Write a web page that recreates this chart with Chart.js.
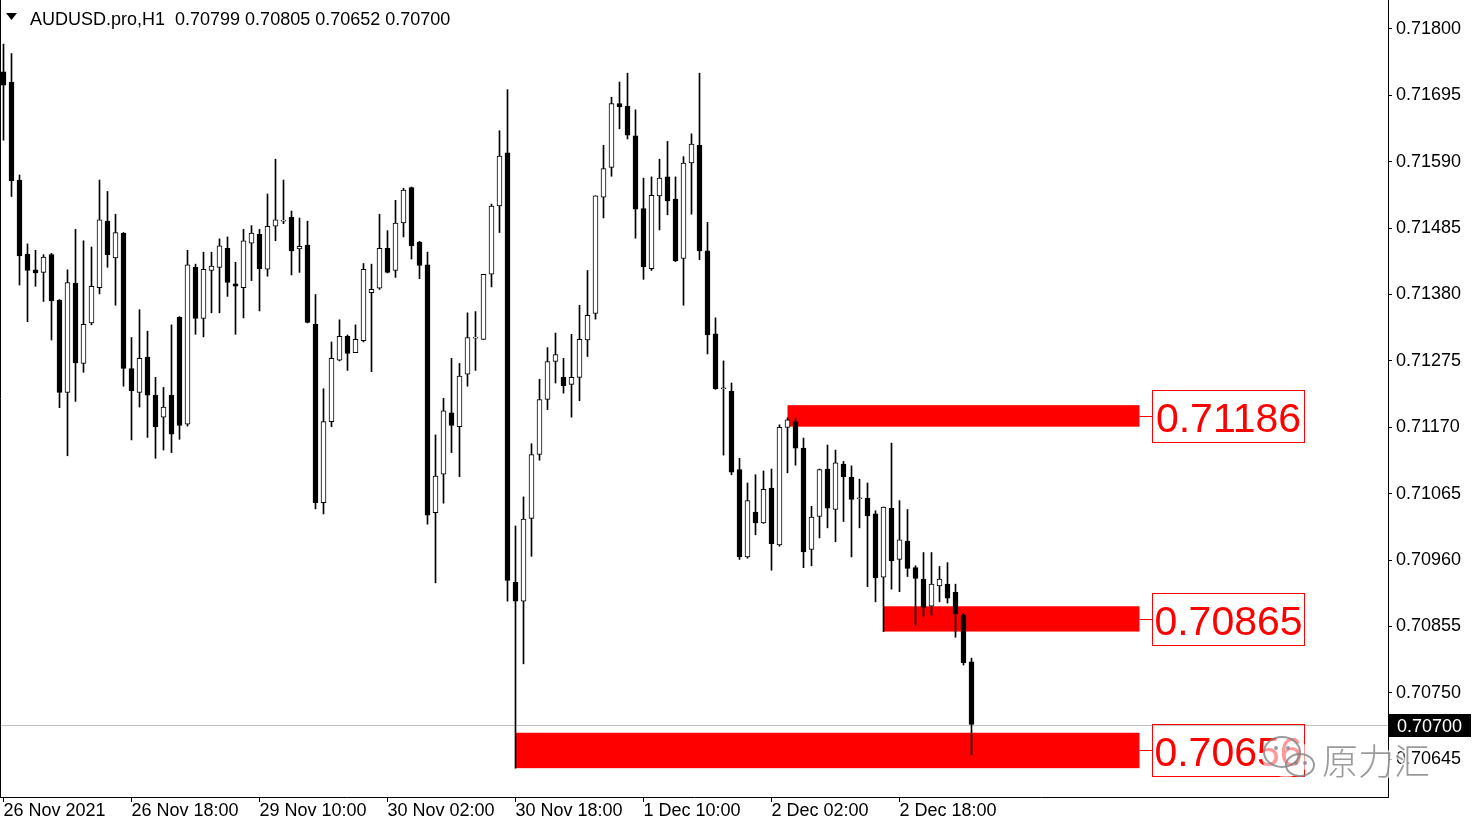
<!DOCTYPE html>
<html>
<head>
<meta charset="utf-8">
<title>AUDUSD.pro,H1</title>
<script src="https://cdn.jsdelivr.net/npm/chart.js@4.4.1/dist/chart.umd.min.js"></script>
<style>
  html, body { margin: 0; padding: 0; background: #fff; }
  canvas { display: block; }
</style>
</head>
<body>
<canvas id="chart" width="1480" height="826"></canvas>
<script>
// AUDUSD H1, 26 Nov 02:00 .. 3 Dec 03:00 (one bar per hour)
const symbol = 'AUDUSD.pro,H1';

const open = [
  0.71732, 0.71716, 0.71561, 0.71444, 0.71419, 0.71415, 0.71443, 0.71371, 0.71225, 0.71398,
  0.71271, 0.71335, 0.71391, 0.71496, 0.71438, 0.71477, 0.71263, 0.71225, 0.71281, 0.71221,
  0.71186, 0.71221, 0.71344, 0.71175, 0.71423, 0.71342, 0.71418, 0.71423, 0.71453, 0.71397,
  0.71391, 0.71461, 0.71475, 0.71420, 0.71488, 0.71496, 0.71502, 0.71452, 0.71458, 0.71333,
  0.71051, 0.71179, 0.71276, 0.71314, 0.71288, 0.71307, 0.71383, 0.71390, 0.71453, 0.71418,
  0.71493, 0.71549, 0.71463, 0.71427, 0.71035, 0.71096, 0.71193, 0.71171, 0.71254, 0.71311,
  0.71309, 0.71412, 0.71520, 0.71604, 0.70925, 0.70895, 0.71026, 0.71127, 0.71214, 0.71274,
  0.71249, 0.71238, 0.71249, 0.71308, 0.71350, 0.71534, 0.71581, 0.71682, 0.71678, 0.71631,
  0.71516, 0.71421, 0.71536, 0.71566, 0.71531, 0.71437, 0.71588, 0.71616, 0.71449, 0.71318,
  0.71231, 0.71227, 0.71103, 0.70965, 0.71036, 0.71019, 0.71074, 0.70984, 0.71170, 0.71179,
  0.71137, 0.70977, 0.71029, 0.71104, 0.71040, 0.71112, 0.71091, 0.71057, 0.71058, 0.71033,
  0.70933, 0.71042, 0.70961, 0.70990, 0.70948, 0.70930, 0.70887, 0.70919, 0.70922, 0.70909,
  0.70873, 0.70799
];
const high = [
  0.71776, 0.71761, 0.71569, 0.71460, 0.71450, 0.71443, 0.71445, 0.71372, 0.71419, 0.71483,
  0.71465, 0.71455, 0.71561, 0.71543, 0.71507, 0.71478, 0.71312, 0.71356, 0.71322, 0.71249,
  0.71233, 0.71332, 0.71345, 0.71450, 0.71428, 0.71447, 0.71447, 0.71468, 0.71471, 0.71431,
  0.71483, 0.71489, 0.71483, 0.71539, 0.71594, 0.71561, 0.71512, 0.71501, 0.71496, 0.71380,
  0.71231, 0.71305, 0.71340, 0.71316, 0.71332, 0.71429, 0.71428, 0.71507, 0.71481, 0.71529,
  0.71548, 0.71550, 0.71464, 0.71447, 0.71158, 0.71216, 0.71279, 0.71271, 0.71351, 0.71353,
  0.71412, 0.71523, 0.71639, 0.71704, 0.71014, 0.71060, 0.71144, 0.71246, 0.71296, 0.71319,
  0.71279, 0.71317, 0.71363, 0.71418, 0.71536, 0.71616, 0.71692, 0.71716, 0.71730, 0.71672,
  0.71564, 0.71566, 0.71594, 0.71622, 0.71566, 0.71598, 0.71634, 0.71730, 0.71494, 0.71343,
  0.71275, 0.71240, 0.71121, 0.71082, 0.71095, 0.71101, 0.71104, 0.71174, 0.71185, 0.71184,
  0.71153, 0.71045, 0.71104, 0.71142, 0.71134, 0.71116, 0.71109, 0.71088, 0.71082, 0.71038,
  0.71044, 0.71145, 0.71054, 0.71040, 0.70951, 0.70972, 0.70972, 0.70950, 0.70956, 0.70922,
  0.70876, 0.70805
];
const low = [
  0.71624, 0.71535, 0.71395, 0.71337, 0.71393, 0.71369, 0.71308, 0.71201, 0.71125, 0.71211,
  0.71257, 0.71332, 0.71381, 0.71423, 0.71363, 0.71235, 0.71150, 0.71202, 0.71154, 0.71121,
  0.71134, 0.71130, 0.71151, 0.71172, 0.71317, 0.71313, 0.71351, 0.71351, 0.71377, 0.71317,
  0.71343, 0.71402, 0.71354, 0.71409, 0.71465, 0.71492, 0.71411, 0.71415, 0.71335, 0.71041,
  0.71033, 0.71171, 0.71275, 0.71260, 0.71288, 0.71305, 0.71258, 0.71388, 0.71414, 0.71407,
  0.71471, 0.71436, 0.71405, 0.71017, 0.70924, 0.71050, 0.71130, 0.71092, 0.71235, 0.71260,
  0.71309, 0.71392, 0.71478, 0.70895, 0.70631, 0.70796, 0.70966, 0.71118, 0.71198, 0.71240,
  0.71224, 0.71186, 0.71212, 0.71282, 0.71341, 0.71501, 0.71567, 0.71642, 0.71626, 0.71469,
  0.71404, 0.71418, 0.71482, 0.71506, 0.71432, 0.71363, 0.71507, 0.71435, 0.71286, 0.71230,
  0.71126, 0.71095, 0.70961, 0.70963, 0.71000, 0.71018, 0.70944, 0.70982, 0.71098, 0.71110,
  0.70948, 0.70951, 0.70995, 0.71011, 0.70989, 0.71021, 0.70965, 0.71011, 0.70918, 0.70894,
  0.70847, 0.70914, 0.70910, 0.70934, 0.70857, 0.70871, 0.70873, 0.70894, 0.70892, 0.70838,
  0.70794, 0.70652
];
const close = [
  0.71711, 0.71560, 0.71441, 0.71418, 0.71414, 0.71439, 0.71370, 0.71225, 0.71399, 0.71272,
  0.71333, 0.71393, 0.71498, 0.71443, 0.71478, 0.71263, 0.71228, 0.71279, 0.71221, 0.71171,
  0.71202, 0.71159, 0.71173, 0.71427, 0.71342, 0.71420, 0.71425, 0.71457, 0.71399, 0.71393,
  0.71465, 0.71477, 0.71421, 0.71488, 0.71498, 0.71496, 0.71449, 0.71456, 0.71336, 0.71051,
  0.71179, 0.71279, 0.71314, 0.71287, 0.71309, 0.71420, 0.71388, 0.71453, 0.71415, 0.71493,
  0.71545, 0.71457, 0.71426, 0.71031, 0.71093, 0.71196, 0.71173, 0.71251, 0.71312, 0.71311,
  0.71412, 0.71520, 0.71599, 0.70928, 0.70895, 0.71025, 0.71127, 0.71214, 0.71274, 0.71285,
  0.71236, 0.71249, 0.71309, 0.71347, 0.71536, 0.71579, 0.71682, 0.71677, 0.71632, 0.71515,
  0.71424, 0.71537, 0.71564, 0.71528, 0.71433, 0.71588, 0.71618, 0.71449, 0.71316, 0.71231,
  0.71231, 0.71099, 0.70965, 0.71054, 0.71019, 0.71072, 0.70986, 0.71170, 0.71182, 0.71137,
  0.70973, 0.71028, 0.71103, 0.71042, 0.71114, 0.71092, 0.71056, 0.71057, 0.71030, 0.70932,
  0.71044, 0.70959, 0.70992, 0.70947, 0.70931, 0.70885, 0.70922, 0.70930, 0.70900, 0.70875,
  0.70798, 0.70700
];

// time axis: a label every 16 bars
const tickLabels = ['26 Nov 2021', '26 Nov 18:00', '29 Nov 10:00', '30 Nov 02:00',
  '30 Nov 18:00', '1 Dec 10:00', '2 Dec 02:00', '2 Dec 18:00'];
const tickStep = 16;

const priceTicks = [0.71800, 0.71695, 0.71590, 0.71485, 0.71380, 0.71275,
  0.71170, 0.71065, 0.70960, 0.70855, 0.70750, 0.70645];

// red zones (bar index where they start / end, price range, label)
const zoneFrom = [98, 110, 64];
const zoneTo = [142, 142, 142];
const zoneTop = [0.71205, 0.70887, 0.70687];
const zoneBottom = [0.71171, 0.70847, 0.70631];
const zoneLabels = ['0.71186', '0.70865', '0.70656'];

const FONT = 'Liberation Sans, Arial, sans-serif';
const last = close.length - 1;

const bodies = open.map((o, i) => ({ x: i, y: [Math.min(o, close[i]), Math.max(o, close[i])] }));
const wicks = open.map((o, i) => ({ x: i, y: [low[i], high[i]] }));
const bodyFill = open.map((o, i) => (close[i] < o ? '#000000' : '#ffffff'));

const mt4Overlay = {
  id: 'mt4Overlay',
  beforeDatasetsDraw(chart) {
    const { ctx, chartArea: a, scales: { x, y } } = chart;
    ctx.save();
    // zones
    ctx.fillStyle = '#ff0000';
    zoneFrom.forEach((f, k) => {
      const x0 = x.getPixelForValue(f), x1 = x.getPixelForValue(zoneTo[k]);
      const y0 = y.getPixelForValue(zoneTop[k]), y1 = y.getPixelForValue(zoneBottom[k]);
      ctx.fillRect(x0, y0, x1 - x0, y1 - y0);
    });
    // current price line
    const yp = Math.round(y.getPixelForValue(close[last])) + 0.5;
    ctx.strokeStyle = '#c0c0c0';
    ctx.lineWidth = 1;
    ctx.beginPath();
    ctx.moveTo(a.left, yp);
    ctx.lineTo(a.right, yp);
    ctx.stroke();
    ctx.restore();
  },
  afterDraw(chart) {
    const { ctx, chartArea: a, scales: { x, y } } = chart;
    ctx.save();
    // left frame line
    ctx.strokeStyle = '#000';
    ctx.lineWidth = 1;
    ctx.beginPath();
    ctx.moveTo(0.5, 0);
    ctx.lineTo(0.5, a.bottom);
    ctx.stroke();

    // title
    ctx.fillStyle = '#000';
    ctx.beginPath();
    ctx.moveTo(6, 13);
    ctx.lineTo(17, 13);
    ctx.lineTo(11.5, 20);
    ctx.closePath();
    ctx.fill();
    ctx.font = '18px ' + FONT;
    ctx.textBaseline = 'alphabetic';
    ctx.textAlign = 'left';
    const ohlc = [open[last], high[last], low[last], close[last]].map(v => v.toFixed(5)).join(' ');
    ctx.fillText(symbol + '  ' + ohlc, 30, 25);

    // zone label boxes
    zoneFrom.forEach((f, k) => {
      const x1 = x.getPixelForValue(zoneTo[k]);
      const ym = (y.getPixelForValue(zoneTop[k]) + y.getPixelForValue(zoneBottom[k])) / 2;
      const bx = Math.round(x1) + 12, bw = 152, bh = 52;
      const by = Math.round(ym - bh / 2);
      ctx.strokeStyle = '#ff0000';
      ctx.lineWidth = 1;
      ctx.beginPath();
      ctx.moveTo(x1, Math.round(ym) + 0.5);
      ctx.lineTo(bx, Math.round(ym) + 0.5);
      ctx.stroke();
      ctx.strokeRect(bx + 0.5, by + 0.5, bw, bh);
      ctx.fillStyle = '#ff0000';
      ctx.font = '41px ' + FONT;
      ctx.textAlign = 'center';
      ctx.fillText(zoneLabels[k], bx + bw / 2 + 0.5, ym + 16);
    });

    // price tag on the axis
    const yp = y.getPixelForValue(close[last]);
    ctx.fillStyle = '#000';
    ctx.fillRect(a.right + 1, Math.round(yp) - 11, 82, 23);
    ctx.fillStyle = '#fff';
    ctx.font = '18px ' + FONT;
    ctx.textAlign = 'left';
    ctx.fillText(close[last].toFixed(5), a.right + 9, Math.round(yp) + 7);

    // watermark
    ctx.fillStyle = 'rgba(255,255,255,0.6)';
    ctx.beginPath();
    ctx.ellipse(1286, 757, 24, 20, 0, 0, Math.PI * 2);
    ctx.fill();
    ctx.strokeStyle = 'rgba(130,130,130,0.8)';
    ctx.lineWidth = 2;
    ctx.beginPath();
    ctx.ellipse(1282, 752, 18, 15, 0, 0, Math.PI * 2);
    ctx.stroke();
    ctx.beginPath();
    ctx.ellipse(1300, 765, 14, 11, 0, 0, Math.PI * 2);
    ctx.stroke();
    ctx.fillStyle = 'rgba(130,130,130,0.8)';
    [[1276, 748], [1288, 748], [1296, 763], [1305, 763]].forEach(([cx, cy]) => {
      ctx.beginPath();
      ctx.arc(cx, cy, 2, 0, Math.PI * 2);
      ctx.fill();
    });
    ctx.font = '300 36px "Noto Sans CJK SC", sans-serif';
    ctx.textAlign = 'left';
    ctx.lineWidth = 4;
    ctx.strokeStyle = 'rgba(255,255,255,0.7)';
    ctx.strokeText('原力汇', 1322, 775);
    ctx.fillStyle = 'rgba(120,120,120,0.75)';
    ctx.fillText('原力汇', 1322, 775);
    ctx.restore();
  }
};

const ctx = document.getElementById('chart').getContext('2d');

const chart = new Chart(ctx, {
  type: 'bar',
  data: {
    datasets: [
      {
        data: bodies,
        backgroundColor: bodyFill,
        borderColor: '#000000',
        borderWidth: 1,
        borderSkipped: false,
        barThickness: 5,
        minBarLength: 1,
        grouped: false,
        order: 0
      },
      {
        data: wicks,
        backgroundColor: '#000000',
        borderWidth: 0,
        barThickness: 1,
        grouped: false,
        order: 1
      }
    ]
  },
  options: {
    responsive: false,
    animation: false,
    devicePixelRatio: 1,
    layout: { padding: 0 },
    plugins: {
      legend: { display: false },
      tooltip: { enabled: false }
    },
    scales: {
      x: {
        type: 'linear',
        bounds: 'data',
        min: -0.4375,
        max: 173.0625,
        offset: false,
        afterBuildTicks: s => { s.ticks = tickLabels.map((t, k) => ({ value: k * tickStep })); },
        afterFit: s => { s.height = 29; s.paddingLeft = 0; s.paddingRight = 0; },
        grid: { offset: false, drawOnChartArea: false, drawTicks: true, tickLength: 5, color: '#000' },
        border: { display: true, color: '#000', width: 1 },
        ticks: {
          autoSkip: false,
          maxRotation: 0,
          align: 'start',
          padding: -2,
          color: '#000',
          font: { family: FONT, size: 18 },
          callback: (v, k) => tickLabels[k]
        }
      },
      y: {
        type: 'linear',
        position: 'right',
        bounds: 'data',
        min: 0.705854,
        max: 0.718457,
        afterBuildTicks: s => { s.ticks = priceTicks.map(v => ({ value: v })); },
        afterFit: s => { s.width = 92; s.paddingTop = 0; s.paddingBottom = 0; },
        grid: { drawOnChartArea: false, drawTicks: true, tickLength: 4, color: '#000' },
        border: { display: true, color: '#000', width: 1 },
        ticks: {
          padding: 4,
          color: '#000',
          font: { family: FONT, size: 18 },
          callback: v => v.toFixed(5)
        }
      }
    }
  },
  plugins: [mt4Overlay]
});
</script>
</body>
</html>
